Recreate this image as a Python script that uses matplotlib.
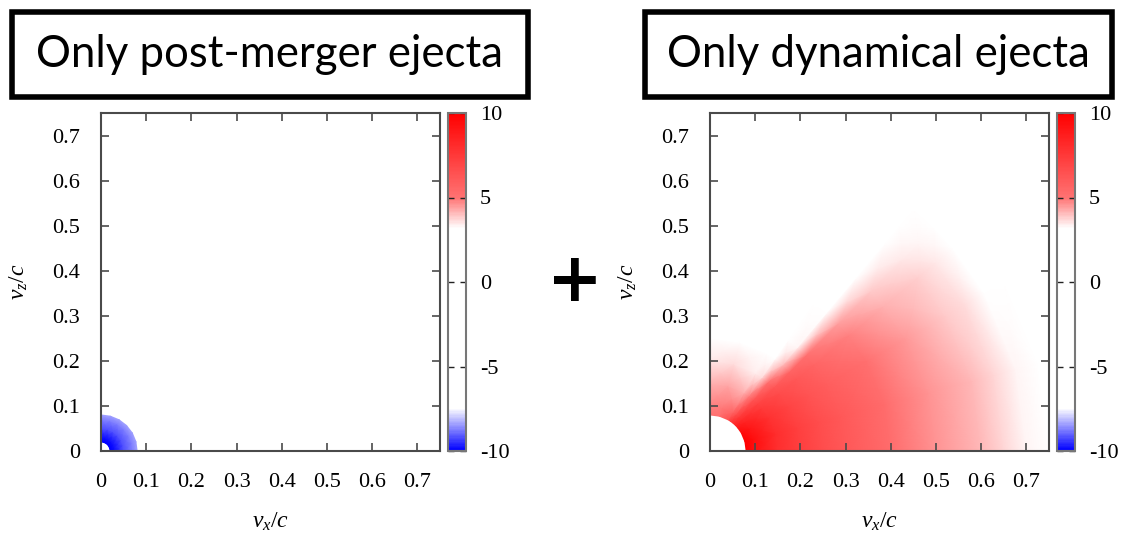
import matplotlib.pyplot as plt
import numpy as np
from matplotlib.colors import LinearSegmentedColormap
from matplotlib.patches import Rectangle

# --- data (colour value, -10 .. 10) ---
# left: post-merger ejecta, polar samples (angle from equator in deg, speed v/c)
pm_angles = [0, 15, 30, 45, 60, 75, 90]
pm_speeds = [0.02, 0.03, 0.05, 0.07, 0.08]
pm_values = [
    [-10.0, -9.8, -9.2, -8.7, -8.4],
    [-10.0, -9.8, -9.2, -8.7, -8.4],
    [-10.0, -9.8, -9.2, -8.7, -8.4],
    [-10.0, -9.8, -9.2, -8.7, -8.4],
    [-10.0, -9.8, -9.2, -8.7, -8.4],
    [-10.0, -9.8, -9.2, -8.7, -8.4],
    [-10.0, -9.8, -9.2, -8.7, -8.4],
]

# right: dynamical ejecta
dyn_angles = [0, 15, 30, 40, 45, 50, 55, 60, 75, 90]
dyn_speeds = [0.08, 0.1, 0.15, 0.2, 0.25, 0.3, 0.4, 0.5, 0.6, 0.65, 0.7, 0.75, 1.1]
dyn_values = [
    [10.0, 9.2, 7.9, 7.2, 6.6, 6.1, 5.3, 4.6, 4.1, 3.7, 3.3, 2.8, 0],
    [10.0, 9.3, 8.0, 7.2, 6.6, 6.1, 5.3, 4.6, 4.1, 3.7, 3.3, 2.8, 0],
    [9.6, 9.0, 7.8, 7.0, 6.4, 5.9, 5.1, 4.5, 3.9, 3.6, 3.1, 2.4, 0],
    [9.0, 8.5, 7.4, 6.7, 6.1, 5.6, 4.8, 4.2, 3.8, 3.5, 3.0, 2.0, 0],
    [8.5, 8.0, 7.0, 6.2, 5.6, 5.1, 4.4, 3.9, 3.5, 3.3, 2.8, 1.5, 0],
    [8.0, 7.4, 6.2, 5.0, 4.0, 3.3, 2.6, 2.0, 1.0, 0, 0, 0, 0],
    [7.5, 6.5, 4.8, 3.6, 2.8, 1.5, 0, 0, 0, 0, 0, 0, 0],
    [6.5, 5.6, 4.2, 3.4, 2.4, 1.0, 0, 0, 0, 0, 0, 0, 0],
    [5.2, 4.9, 4.3, 3.6, 2.6, 1.0, 0, 0, 0, 0, 0, 0, 0],
    [5.0, 4.8, 4.2, 3.5, 2.6, 1.0, 0, 0, 0, 0, 0, 0, 0],
]

axis_ticks = [0, 0.1, 0.2, 0.3, 0.4, 0.5, 0.6, 0.7]
axis_ticklabels = ["0", "0.1", "0.2", "0.3", "0.4", "0.5", "0.6", "0.7"]
cbar_ticks = [-10, -5, 0, 5, 10]
cbar_ticklabels = ["-10", "-5", "0", "5", "10"]
titles = ["Only post-merger ejecta", "Only dynamical ejecta"]

# colour palette: blue -> white (wide) -> red
cmap = LinearSegmentedColormap.from_list(
    "bwr_wide",
    [(0.0, (0, 0, 1)), (0.125, (1, 1, 1)), (0.66, (1, 1, 1)),
     (0.75, (1, 0.45, 0.45)), (1.0, (1, 0, 0))])

serif = "Liberation Serif"
frame_col = "#4a4a4a"

plt.rcParams["mathtext.fontset"] = "custom"
plt.rcParams["mathtext.it"] = "Liberation Serif:italic"
plt.rcParams["mathtext.rm"] = "Liberation Serif"

fig = plt.figure(figsize=(11.21, 5.36), dpi=100)


def polar_mesh(angles, speeds):
    R, P = np.meshgrid(np.array(speeds), np.radians(angles))
    return R * np.cos(P), R * np.sin(P)


def panel(ax_rect, cax_rect, angles, speeds, values, title, box_rect):
    ax = fig.add_axes(ax_rect)
    X, Y = polar_mesh(angles, speeds)
    m = ax.pcolormesh(X, Y, np.array(values), shading="gouraud",
                      cmap=cmap, vmin=-10, vmax=10)
    ax.set_xlim(0, 0.75)
    ax.set_ylim(0, 0.75)
    ax.set_xticks(axis_ticks)
    ax.set_xticklabels(axis_ticklabels)
    ax.set_yticks(axis_ticks)
    ax.set_yticklabels(axis_ticklabels)
    ax.tick_params(direction="in", top=True, right=True, length=6, width=1.2,
                   color=frame_col, labelsize=16)
    ax.tick_params(axis="x", pad=16)
    ax.tick_params(axis="y", pad=15)
    for lab in ax.get_xticklabels() + ax.get_yticklabels():
        lab.set_fontfamily(serif)
    for s in ax.spines.values():
        s.set_color(frame_col)
        s.set_linewidth(1.5)
    ax.set_xlabel(r"$v_x/c$", fontsize=17, labelpad=12)
    ax.set_ylabel(r"$v_z/c$", fontsize=17, labelpad=16)

    cax = fig.add_axes(cax_rect)
    cb = fig.colorbar(m, cax=cax)
    cb.set_ticks(cbar_ticks)
    cb.set_ticklabels(cbar_ticklabels)
    cax.tick_params(direction="in", left=True, right=True, length=4, width=1.0,
                    color="#222222", labelsize=16, pad=10)
    for lab in cax.get_yticklabels():
        lab.set_fontfamily(serif)
    cb.outline.set_edgecolor("#777777")
    cb.outline.set_linewidth(1.5)

    x0, y0, w, h = box_rect
    fig.patches.append(Rectangle((x0, y0), w, h, transform=fig.transFigure,
                                 fill=False, edgecolor="black", linewidth=4))
    fig.text(x0 + w / 2, y0 + h / 2, title, ha="center", va="center",
             fontsize=31.5, family="Lato")
    return ax


panel([101 / 1121, 85 / 536, 339 / 1121, 338 / 536],
      [448 / 1121, 85 / 536, 18 / 1121, 338 / 536],
      pm_angles, pm_speeds, pm_values, titles[0],
      (12 / 1121, 439 / 536, 516 / 1121, 85 / 536))
panel([710 / 1121, 85 / 536, 339 / 1121, 338 / 536],
      [1057 / 1121, 85 / 536, 18 / 1121, 338 / 536],
      dyn_angles, dyn_speeds, dyn_values, titles[1],
      (645 / 1121, 439 / 536, 467 / 1121, 85 / 536))

fig.text(575 / 1121, 1 - 282 / 536, "+", ha="center", va="center",
         fontsize=48, fontweight="bold", family="DejaVu Sans")

fig.savefig("out.png", dpi=100)
